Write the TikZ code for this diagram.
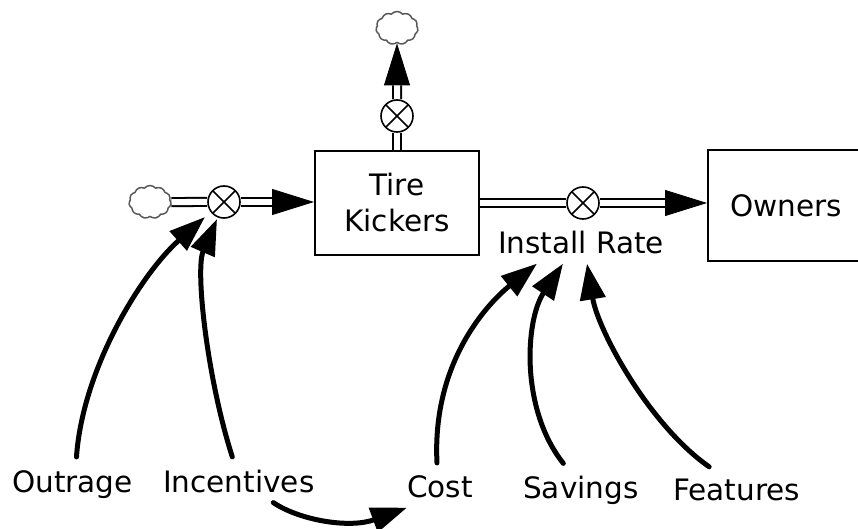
\documentclass[tikz,border=0pt]{standalone}
\usepackage{fontspec}
\setmainfont{DejaVu Sans}
\usetikzlibrary{arrows.meta,shapes.symbols,backgrounds}
\begin{document}
\begin{tikzpicture}[x=1pt,y=-1pt,
  every node/.style={font=\fontsize{29.5pt}{36pt}\selectfont},
  stock/.style={draw, line width=2pt, inner sep=0pt},
  valve/.style={circle, draw, line width=1.6pt, fill=white, minimum size=32pt, inner sep=0pt,
    path picture={\draw[line width=1.6pt]
      (path picture bounding box.south west) -- (path picture bounding box.north east)
      (path picture bounding box.north west) -- (path picture bounding box.south east);}},
  source/.style={cloud, cloud puffs=11, cloud puff arc=100, aspect=1.3, draw=black!65,
    line width=1.5pt, minimum width=42pt, minimum height=33pt, inner sep=0pt},
  pipe/.style={line width=2pt, double=white, double distance=6pt},
  flowtip/.style={line width=0.8pt, -{Triangle[length=42pt,width=26pt]}},
  infl/.style={line width=5pt, line cap=round, -{Triangle[length=36pt,width=25pt]}},
  lbl/.style={anchor=base west, inner sep=0pt}
]
\useasboundingbox (0,0) rectangle (858,529);
\clip (0,0) rectangle (858,529);

% stocks
\node[stock, minimum width=164pt, minimum height=103pt, align=center] (tk) at (397,203) {Tire\\Kickers};
\node[stock, minimum width=156pt, minimum height=111pt] (own) at (786,205.5) {Owners};

% sources and sinks
\node[source] (lcl) at (150,202) {};
\node[source] (tcl) at (397,28) {};

% flow valves
\node[valve] (vL) at (224,202) {};
\node[valve] (vT) at (397,116) {};
\node[valve] (vI) at (583,203) {};
\node[anchor=base, inner sep=0pt] (ir) at (581,253) {Install Rate};

% auxiliary variables
\node[lbl] (out) at (12,492) {Outrage};
\node[lbl] (inc) at (163,492) {Incentives};
\node[lbl] (cost) at (407,497) {Cost};
\node[lbl] (sav) at (523,498) {Savings};
\node[lbl] (feat) at (673,500) {Features};

% pipes of the flows
\begin{scope}[on background layer]
  \draw[flowtip] (vL) -- (vL -| tk.west);
  \draw[flowtip] (vT) -- (tcl.south);
  \draw[flowtip] (vI) -- (vI -| own.west);
  \draw[pipe] (lcl) -- (vL);
  \draw[pipe, shorten >=42pt] (vL) -- (vL -| tk.west);
  \draw[pipe] (tk) -- (vT);
  \draw[pipe, shorten >=42pt] (vT) -- (tcl.south);
  \draw[pipe] (tk) -- (vI);
  \draw[pipe, shorten >=42pt] (vI) -- (vI -| own.west);
\end{scope}

% causal links
\draw[infl] ([xshift=4pt,yshift=13pt]out.north)
  .. controls +(6,-87) and +(-65,58) .. ([xshift=-19pt,yshift=-15pt]vL.center);
\draw[infl] ([xshift=-6.5pt,yshift=12.5pt]inc.north)
  .. controls +(-25,-78) and +(-22,51) .. ([xshift=-7pt,yshift=-17pt]vL.center);
\draw[infl] ([xshift=34.5pt,yshift=-10pt]inc.south)
  .. controls +(27,18) and +(-57,21) .. ([yshift=-10pt]cost.south west);
\draw[infl] ([xshift=-3pt,yshift=12pt]cost.north)
  .. controls +(-5,-98) and +(-52,42) .. ([xshift=-44pt,yshift=-10pt]ir.south);
\draw[infl] ([xshift=-17.5pt,yshift=12pt]sav.north)
  .. controls +(-43,-54) and +(-38,57) .. ([xshift=-18pt,yshift=-10pt]ir.south);
\draw[infl] ([xshift=-27.5pt,yshift=11.5pt]feat.north)
  .. controls +(-60,-42) and +(11,67) .. ([xshift=6pt,yshift=-10pt]ir.south);
\end{tikzpicture}
\end{document}
